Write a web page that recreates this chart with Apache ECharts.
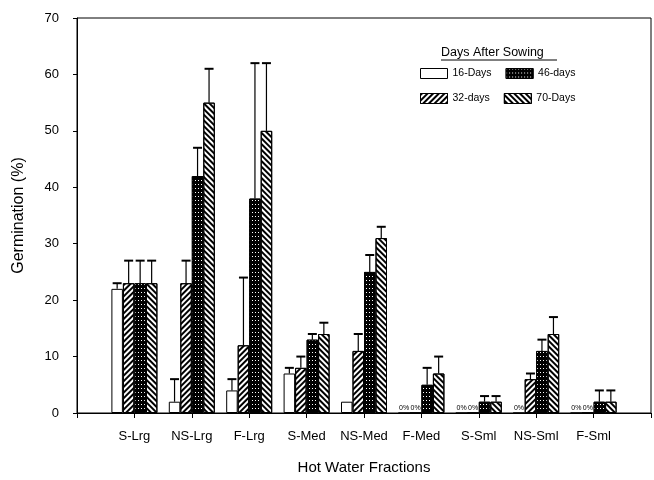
<!DOCTYPE html>
<html>
<head>
<meta charset="utf-8">
<script src="https://cdn.jsdelivr.net/npm/echarts@6/dist/echarts.min.js"></script>
<style>
  html, body { margin: 0; padding: 0; background: #fff; }
  #main { width: 654px; height: 480px; }
</style>
</head>
<body>
<div id="main"></div>
<script>
var categories = ['S-Lrg', 'NS-Lrg', 'F-Lrg', 'S-Med', 'NS-Med', 'F-Med', 'S-Sml', 'NS-Sml', 'F-Sml'];
var seriesNames = ['16-Days', '32-days', '46-days', '70-Days'];
// bar heights (% germination)
var days16 = [22, 2, 4, 7, 2, 0, 0, 0, 0];
var days32 = [23, 23, 12, 8, 11, 0, 0, 6, 0];
var days46 = [23, 42, 38, 13, 25, 5, 2, 11, 2];
var days70 = [23, 55, 50, 14, 31, 7, 2, 14, 2];
// top of error bars
var err16 = [23, 6, 6, 8, 2, 0, 0, 0, 0];
var err32 = [27, 27, 24, 10, 14, 0, 0, 7, 0];
var err46 = [27, 47, 62, 14, 28, 8, 3, 13, 4];
var err70 = [27, 61, 62, 16, 33, 10, 3, 17, 4];
var yTicks = [0, 10, 20, 30, 40, 50, 60, 70];

var FONT = 'Liberation Sans';
var BAR_W = 11.5;

// axis has an empty slot at each end, categories sit on points 1..9
var axisCats = [''].concat(categories, ['']);
function pad(arr) {
  return ['-'].concat(arr, ['-']);
}

var decals = [
  null,
  { symbol: 'rect', symbolSize: 1, color: '#000', dashArrayX: [1, 0], dashArrayY: [2, 2], rotation: -Math.PI / 4 },
  { symbol: 'rect', symbolSize: 1, color: '#fff', dashArrayX: [1, 2], dashArrayY: [1, 3], rotation: 0 },
  { symbol: 'rect', symbolSize: 1, color: '#000', dashArrayX: [1, 0], dashArrayY: [2, 2], rotation: Math.PI / 4 }
];
var fills = ['#fff', '#fff', '#000', '#fff'];
var values = [days16, days32, days46, days70];
var uppers = [err16, err32, err46, err70];

var series = [];
values.forEach(function (vals, k) {
  var itemStyle = { color: fills[k], borderColor: '#000', borderWidth: 1 };
  if (decals[k]) itemStyle.decal = decals[k];
  series.push({
    name: seriesNames[k],
    type: 'bar',
    barWidth: BAR_W,
    barGap: '0%',
    data: pad(vals),
    itemStyle: itemStyle,
    label: {
      show: true,
      position: 'top',
      distance: 1,
      fontFamily: FONT,
      fontSize: 7,
      color: '#000',
      formatter: function (p) {
        return p.value === 0 ? '0%' : '';
      }
    }
  });
});

// error bars, upper side only
values.forEach(function (vals, k) {
  var errData = vals.map(function (v, i) {
    return [i + 1, v, uppers[k][i]];
  });
  series.push({
    name: 'err' + k,
    type: 'custom',
    z: 3,
    data: errData,
    renderItem: function (params, api) {
      var lo = api.value(1), hi = api.value(2);
      if (hi <= lo) return null;
      var p0 = api.coord([api.value(0), lo]);
      var p1 = api.coord([api.value(0), hi]);
      var cx = p0[0] + (k - 1.5) * BAR_W;
      return {
        type: 'group',
        children: [
          { type: 'line', shape: { x1: cx, y1: p0[1], x2: cx, y2: p1[1] }, style: { stroke: '#000', lineWidth: 1.2 } },
          { type: 'line', shape: { x1: cx - 4.5, y1: p1[1], x2: cx + 4.5, y2: p1[1] }, style: { stroke: '#000', lineWidth: 2 } }
        ]
      };
    }
  });
});

var chart = echarts.init(document.getElementById('main'), null, { renderer: 'canvas' });
chart.setOption({
  backgroundColor: '#fff',
  animation: false,
  textStyle: { fontFamily: FONT },
  grid: {
    left: 77, right: 2, top: 18, bottom: 59,
    show: true, borderColor: '#000', borderWidth: 1
  },
  legend: {
    data: ['16-Days', '46-days', '32-days', '70-Days'],
    left: 415, top: 63, width: 190,
    orient: 'horizontal',
    itemWidth: 27, itemHeight: 10, itemGap: 14,
    icon: 'rect',
    textStyle: { fontFamily: FONT, fontSize: 10.5, color: '#000' },
    itemStyle: { borderColor: '#000', borderWidth: 1 }
  },
  graphic: [
    { type: 'text', left: 441, top: 46, style: { text: 'Days After Sowing', font: '12.5px "Liberation Sans"', fill: '#000' } },
    { type: 'line', shape: { x1: 441, y1: 60, x2: 557, y2: 60 }, style: { stroke: '#000', lineWidth: 1 } }
  ],
  xAxis: {
    type: 'category',
    data: axisCats,
    boundaryGap: false,
    name: 'Hot Water Fractions',
    nameLocation: 'middle',
    nameGap: 47,
    nameTextStyle: { fontFamily: FONT, fontSize: 15, color: '#000' },
    axisLine: { lineStyle: { color: '#000', width: 1 } },
    axisTick: { show: true, length: 5, lineStyle: { color: '#000' } },
    axisLabel: { fontFamily: FONT, fontSize: 13, color: '#000', margin: 17, interval: 0 },
    splitLine: { show: false }
  },
  yAxis: {
    type: 'value',
    min: yTicks[0],
    max: yTicks[yTicks.length - 1],
    interval: 10,
    name: 'Germination (%)',
    nameLocation: 'middle',
    nameGap: 50,
    nameTextStyle: { fontFamily: FONT, fontSize: 16, color: '#000' },
    axisLine: { show: true, lineStyle: { color: '#000', width: 1 } },
    axisTick: { show: true, length: 4, lineStyle: { color: '#000' } },
    axisLabel: { fontFamily: FONT, fontSize: 13, color: '#000', margin: 18 },
    splitLine: { show: false }
  },
  series: series
});
</script>
</body>
</html>
